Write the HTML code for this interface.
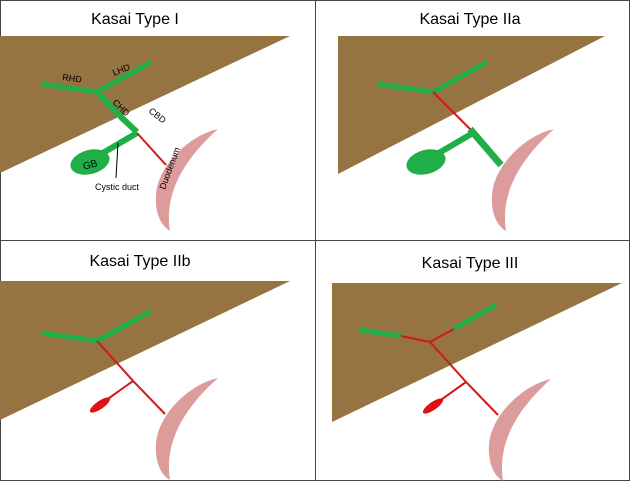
<!DOCTYPE html>
<html><head><style>
html,body{margin:0;padding:0;background:#fff;}
svg{display:block;}
text{font-family:"Liberation Sans",sans-serif;}
</style></head><body>
<svg width="630" height="481" viewBox="0 0 630 481" xmlns="http://www.w3.org/2000/svg">
<rect x="0.5" y="0.5" width="629" height="480" fill="#fff" stroke="#444"/>
<line x1="315.5" y1="0" x2="315.5" y2="481" stroke="#444"/>
<line x1="0" y1="240.5" x2="630" y2="240.5" stroke="#444"/>
<defs>
<path id="duo" d="M218,129 C190,135 158,165 156,195 C155,212 160,225 170,231 C166,205 172,170 218,129 Z" fill="#dc9c9c"/>
</defs>
<text x="135" y="24" font-size="16" text-anchor="middle">Kasai Type I</text>
<text x="470" y="24" font-size="16" text-anchor="middle">Kasai Type IIa</text>
<text x="140" y="266" font-size="16" text-anchor="middle">Kasai Type IIb</text>
<text x="470" y="268" font-size="16" text-anchor="middle">Kasai Type III</text>

<!-- Panel 1 -->
<polygon points="0,36 290,36 0,173" fill="#957442"/>
<use href="#duo"/>
<g stroke-linecap="butt" fill="none">
<polyline points="41,84 97,92 151,62" stroke="#1fae48" stroke-width="5"/>
<polyline points="97,92 122,118 137,132" stroke="#1fae48" stroke-width="6"/>
<line x1="137" y1="133" x2="96" y2="157" stroke="#1fae48" stroke-width="6"/>
<line x1="137" y1="133" x2="166" y2="165" stroke="#d21818" stroke-width="2"/>
<line x1="118" y1="143" x2="116" y2="178" stroke="#000" stroke-width="1"/>
</g>
<ellipse cx="90" cy="162" rx="20" ry="12" transform="rotate(-15 90 162)" fill="#1fae48"/>
<text x="83" y="168" font-size="10" transform="rotate(-15 90 165)">GB</text>
<text x="117" y="190" font-size="9" text-anchor="middle">Cystic duct</text>
<text x="62" y="80" font-size="9" transform="rotate(8 62 80)">RHD</text>
<text x="114" y="76" font-size="9" transform="rotate(-22 114 76)">LHD</text>
<text x="112" y="103" font-size="9" transform="rotate(45 112 103)">CHD</text>
<text x="148" y="112" font-size="9" transform="rotate(38 148 112)">CBD</text>
<text x="165" y="190" font-size="9" transform="rotate(-70 165 190)">Duodenum</text>

<!-- Panel 2 -->
<polygon points="338,36 605,36 338,174" fill="#957442"/>
<g transform="translate(336,0)">
<use href="#duo"/>
<polyline points="41,84 97,92 151,62" stroke="#1fae48" stroke-width="5" fill="none"/>
<line x1="97" y1="92" x2="137" y2="132" stroke="#d21818" stroke-width="2"/>
<line x1="134" y1="129" x2="165" y2="165" stroke="#1fae48" stroke-width="7"/>
<line x1="137" y1="133" x2="96" y2="157" stroke="#1fae48" stroke-width="6"/>
<ellipse cx="90" cy="162" rx="20" ry="12" transform="rotate(-15 90 162)" fill="#1fae48"/>
</g>

<!-- Panel 3 -->
<polygon points="0,281 290,281 0,420" fill="#957442"/>
<g transform="translate(0,249)">
<use href="#duo"/>
<polyline points="41,84 97,92 151,62" stroke="#1fae48" stroke-width="5" fill="none"/>
<polyline points="97,92 135,134 165,165" stroke="#d21818" stroke-width="2" fill="none"/>
<line x1="133" y1="132" x2="105" y2="152" stroke="#d21818" stroke-width="2"/>
<ellipse cx="100" cy="156" rx="12" ry="4" transform="rotate(-35 100 156)" fill="#e21010"/>
</g>

<!-- Panel 4 -->
<polygon points="332,283 622,283 332,422" fill="#957442"/>
<g transform="translate(333,250)">
<use href="#duo"/>
<line x1="26" y1="80" x2="68" y2="86" stroke="#1fae48" stroke-width="5"/>
<polyline points="68,86 97,92 121,79" stroke="#d21818" stroke-width="2" fill="none"/>
<line x1="121" y1="79" x2="163" y2="55" stroke="#1fae48" stroke-width="5"/>
<polyline points="97,92 134,133 165,165" stroke="#d21818" stroke-width="2" fill="none"/>
<line x1="133" y1="132" x2="105" y2="152" stroke="#d21818" stroke-width="2"/>
<ellipse cx="100" cy="156" rx="12" ry="4" transform="rotate(-35 100 156)" fill="#e21010"/>
</g>
</svg>
</body></html>
